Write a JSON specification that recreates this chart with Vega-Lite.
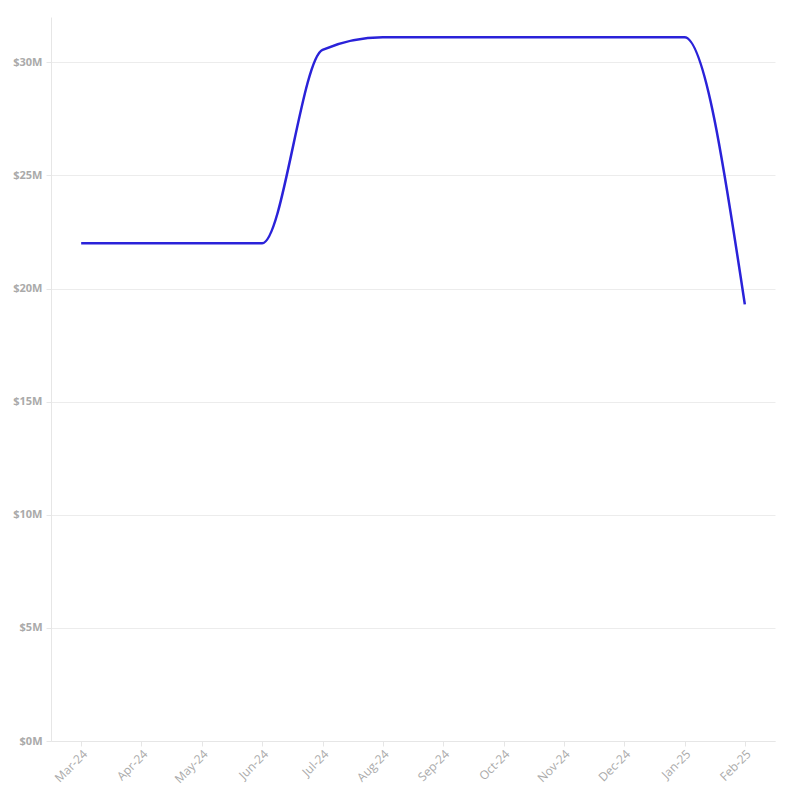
{
  "$schema": "https://vega.github.io/schema/vega-lite/v6.json",
  "width": 724,
  "height": 724,
  "autosize": {"type": "none"},
  "padding": {"left": 51, "top": 17, "right": 19, "bottom": 59},
  "background": "white",
  "data": {
    "values": [
      {"month": "Mar-24", "value": 22000000},
      {"month": "Apr-24", "value": 22000000},
      {"month": "May-24", "value": 22000000},
      {"month": "Jun-24", "value": 22000000},
      {"month": "Jul-24", "value": 30550000},
      {"month": "Aug-24", "value": 31100000},
      {"month": "Sep-24", "value": 31100000},
      {"month": "Oct-24", "value": 31100000},
      {"month": "Nov-24", "value": 31100000},
      {"month": "Dec-24", "value": 31100000},
      {"month": "Jan-25", "value": 31100000},
      {"month": "Feb-25", "value": 19300000}
    ]
  },
  "config": {
    "view": {"stroke": null},
    "font": "Open Sans"
  },
  "mark": {"type": "line", "interpolate": "monotone", "color": "#2a22d9", "strokeWidth": 2.5},
  "encoding": {
    "x": {
      "field": "month",
      "type": "ordinal",
      "sort": null,
      "scale": {"type": "point", "padding": 0.5},
      "axis": {
        "title": null,
        "labelAngle": -45,
        "labelAlign": "right",
        "labelBaseline": "top",
        "labelColor": "#aaaaaa",
        "labelFontSize": 12,
        "labelPadding": 2,
        "domainColor": "#e6e6e6",
        "tickColor": "#e6e6e6",
        "tickSize": 5,
        "grid": false
      }
    },
    "y": {
      "field": "value",
      "type": "quantitative",
      "scale": {"domain": [0, 32000000], "nice": false},
      "axis": {
        "title": null,
        "values": [0, 5000000, 10000000, 15000000, 20000000, 25000000, 30000000],
        "labelExpr": "'$' + (datum.value / 1000000) + 'M'",
        "labelColor": "#aaaaaa",
        "labelFontSize": 11,
        "labelFontWeight": "bold",
        "labelPadding": 4,
        "domainColor": "#e6e6e6",
        "tickColor": "#e6e6e6",
        "tickSize": 5,
        "gridColor": "#ececec"
      }
    }
  }
}
